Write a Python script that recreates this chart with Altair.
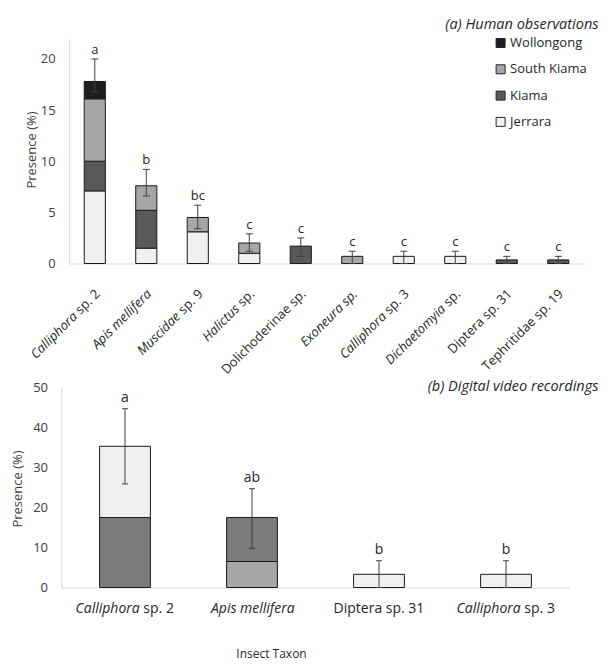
import altair as alt
import pandas as pd

FONT = "Open Sans"
INK = "#262626"
AXIS_GRAY = "#d9d9d9"
LABEL_GRAY = "#404040"
ERR = "#404040"

# ---------------- panel (a) data ----------------
taxa_a = ["Calliphora sp. 2", "Apis mellifera", "Muscidae sp. 9", "Halictus sp.",
          "Dolichoderinae sp.", "Exoneura sp.", "Calliphora sp. 3", "Dichaetomyia sp.",
          "Diptera sp. 31", "Tephritidae sp. 19"]
italic_a = ["Calliphora", "Apis mellifera", "Muscidae", "Halictus", "", "Exoneura sp.",
            "Calliphora", "Dichaetomyia", "", ""]
plain_a = ["sp. 2", "", "sp. 9", "sp.", "Dolichoderinae sp.", "", "sp. 3", "sp.",
           "Diptera sp. 31", "Tephritidae sp. 19"]
sites = ["Jerrara", "Kiama", "South Kiama", "Wollongong"]
jerrara = [7.1, 1.5, 3.1, 1.0, 0, 0, 0.7, 0.7, 0, 0]
kiama = [2.9, 3.7, 0, 0, 1.7, 0, 0, 0, 0.35, 0.35]
south_kiama = [6.1, 2.4, 1.4, 1.0, 0, 0.7, 0, 0, 0, 0]
wollongong = [1.7, 0, 0, 0, 0, 0, 0, 0, 0, 0]
err_hi_a = [20.0, 9.2, 5.7, 2.9, 2.5, 1.2, 1.2, 1.2, 0.7, 0.7]
err_lo_a = [16.8, 6.6, 3.4, 1.2, 0.7, 0.0, 0.0, 0.0, 0.0, 0.0]
letters_a = ["a", "b", "bc", "c", "c", "c", "c", "c", "c", "c"]

# ---------------- panel (b) data ----------------
taxa_b = ["Calliphora sp. 2", "Apis mellifera", "Diptera sp. 31", "Calliphora sp. 3"]
italic_b = ["Calliphora", "Apis mellifera", "", "Calliphora"]
plain_b = ["sp. 2", "", "Diptera sp. 31", "sp. 3"]
lower_val_b = [17.5, 6.5, 3.3, 3.3]
lower_site_b = ["Kiama", "South Kiama", "Jerrara", "Jerrara"]
upper_val_b = [17.8, 11.0, 0, 0]
upper_site_b = ["Jerrara", "Kiama", "", ""]
err_hi_b = [44.7, 24.7, 6.7, 6.7]
err_lo_b = [25.9, 9.8, 0.0, 0.0]
letters_b = ["a", "ab", "b", "b"]

# approximate advance widths (em) of Open Sans, for joining italic + roman label parts
ADV = {' ': 0.26, '.': 0.266, '0': 0.572, '1': 0.572, '2': 0.572, '3': 0.572, '9': 0.572,
       'a': 0.556, 'b': 0.613, 'c': 0.476, 'd': 0.613, 'e': 0.561, 'f': 0.336, 'h': 0.614,
       'i': 0.253, 'l': 0.253, 'm': 0.932, 'n': 0.614, 'o': 0.604, 'p': 0.613, 'r': 0.408,
       's': 0.477, 't': 0.353, 'u': 0.614, 'y': 0.501, 'A': 0.633, 'C': 0.631, 'D': 0.729,
       'E': 0.556, 'H': 0.738, 'M': 0.907, 'T': 0.556}


def text_w(s, size, italic=False):
    return sum(ADV.get(c, 0.56) for c in s) * size * (0.96 if italic else 1.0)


# layout: both plot areas share a left edge; panel (a)'s y axis sits 7.6px further in
SHIFT_A = 7.6
W_A, H_A = 515 + SHIFT_A, 225
W_B, H_B = 508, 200
GAP = 124

# ---------------- panel (a) ----------------
LBL_SIZE_A = 13
LBL_DX, LBL_DY = -18.0, 22.3
rows = []
for i, t in enumerate(taxa_a):
    for k, vals in enumerate([jerrara, kiama, south_kiama, wollongong]):
        if vals[i] > 0:
            rows.append({"taxon": t, "site": sites[k], "value": vals[i], "k": k})
df_bars_a = pd.DataFrame(rows)
df_err_a = pd.DataFrame({"taxon": taxa_a, "hi": err_hi_a, "lo": err_lo_a, "letter": letters_a})
gap_a = text_w(" ", LBL_SIZE_A)
df_lab_a = pd.DataFrame({
    "taxon": taxa_a, "it": italic_a, "pl": plain_a, "zero": [0] * len(taxa_a),
    "dxi": [LBL_DX - (text_w(p, LBL_SIZE_A) + gap_a if p and it else 0)
            for it, p in zip(italic_a, plain_a)],
})

x_a = alt.X("taxon:N",
            scale=alt.Scale(domain=taxa_a, paddingInner=0.59, paddingOuter=0.369, align=0.598),
            axis=alt.Axis(labels=False, ticks=False, title=None, grid=False,
                          domainColor=AXIS_GRAY, domainDash=[0, SHIFT_A, 515, 2000]))
ys_a = alt.Scale(domain=[0, 22], nice=False)
ya_axis = alt.Axis(values=[0, 5, 10, 15, 20], ticks=False, grid=False, domainColor=AXIS_GRAY,
                   offset=-SHIFT_A,
                   labelFontSize=13, labelColor=LABEL_GRAY, labelPadding=14, labelFont=FONT,
                   title="Presence (%)", titleFontSize=13, titleFontWeight="normal",
                   titleColor=LABEL_GRAY, titleFont=FONT, titleX=-37.6, titleY=111,
                   titleBaseline="middle")

bars_a = alt.Chart(df_bars_a).mark_bar(stroke="#1a1a1a", strokeWidth=1).encode(
    x=x_a,
    y=alt.Y("value:Q", stack="zero", scale=ys_a, axis=ya_axis),
    color=alt.Color("site:N",
                    scale=alt.Scale(domain=["Wollongong", "South Kiama", "Kiama", "Jerrara"],
                                    range=["#1e1e1e", "#a6a6a6", "#595959", "#f0f0f0"]),
                    legend=alt.Legend(orient="none", legendX=425 + SHIFT_A, legendY=-2,
                                      title=None, symbolType="square", symbolSize=81,
                                      symbolStrokeColor=INK, symbolStrokeWidth=1,
                                      symbolOpacity=1, labelFontSize=13, labelFont=FONT,
                                      labelColor=INK, labelOffset=3, rowPadding=12.3,
                                      padding=0)),
    order=alt.Order("k:Q", sort="ascending"),
)
rule_a = alt.Chart(df_err_a).mark_rule(color=ERR, strokeWidth=1).encode(
    x=x_a, y=alt.Y("lo:Q", scale=ys_a, axis=ya_axis), y2="hi:Q")
cap_hi_a = alt.Chart(df_err_a).mark_tick(color=ERR, size=7, thickness=1, opacity=1).encode(
    x=x_a, y=alt.Y("hi:Q", scale=ys_a, axis=ya_axis))
cap_lo_a = alt.Chart(df_err_a).mark_tick(color=ERR, size=7, thickness=1, opacity=1).encode(
    x=x_a, y=alt.Y("lo:Q", scale=ys_a, axis=ya_axis))
let_a = alt.Chart(df_err_a).mark_text(baseline="alphabetic", dy=-5, fontSize=13, font=FONT,
                                      color=INK).encode(
    x=x_a, y=alt.Y("hi:Q", scale=ys_a, axis=ya_axis), text="letter:N")
lab_pl_a = alt.Chart(df_lab_a).mark_text(angle=315, align="right", baseline="middle",
                                         dx=LBL_DX, dy=LBL_DY, fontSize=LBL_SIZE_A, font=FONT,
                                         color=INK).encode(
    x=x_a, y=alt.Y("zero:Q", scale=ys_a, axis=ya_axis), text="pl:N")
lab_it_a = alt.Chart(df_lab_a).mark_text(angle=315, align="right", baseline="middle",
                                         dx=alt.ExprRef(expr="datum.dxi"), dy=LBL_DY,
                                         fontSize=LBL_SIZE_A, font=FONT, fontStyle="italic",
                                         color=INK).encode(
    x=x_a, y=alt.Y("zero:Q", scale=ys_a, axis=ya_axis), text="it:N")

top = alt.layer(bars_a, rule_a, cap_hi_a, cap_lo_a, let_a, lab_pl_a, lab_it_a).properties(
    width=W_A, height=H_A,
    title=alt.TitleParams(text="(a) Human observations", anchor="end", frame="group",
                          fontStyle="italic", fontWeight="normal", fontSize=14.5, font=FONT,
                          color=INK, dx=14.4, offset=4),
)

# ---------------- panel (b) ----------------
LBL_SIZE_B = 14
rows = []
for i, t in enumerate(taxa_b):
    if lower_val_b[i] > 0:
        rows.append({"taxon": t, "site": lower_site_b[i], "value": lower_val_b[i], "k": 0})
    if upper_val_b[i] > 0:
        rows.append({"taxon": t, "site": upper_site_b[i], "value": upper_val_b[i], "k": 1})
df_bars_b = pd.DataFrame(rows)
df_err_b = pd.DataFrame({"taxon": taxa_b, "hi": err_hi_b, "lo": err_lo_b, "letter": letters_b})
gap_b = text_w(" ", LBL_SIZE_B)
shift_b = []
for it, p in zip(italic_b, plain_b):
    wi = text_w(it, LBL_SIZE_B, True)
    wp = text_w(p, LBL_SIZE_B)
    g = gap_b if (it and p) else 0
    shift_b.append(wi - (wi + g + wp) / 2)
df_lab_b = pd.DataFrame({
    "taxon": taxa_b, "it": italic_b, "pl": plain_b, "zero": [0] * len(taxa_b),
    "dxi": shift_b,
    "dxp": [s + (gap_b if (it and p) else 0) for s, it, p in zip(shift_b, italic_b, plain_b)],
})

x_b = alt.X("taxon:N", scale=alt.Scale(domain=taxa_b, paddingInner=0.6, paddingOuter=0.3),
            axis=alt.Axis(labels=False, ticks=False, grid=False, domainColor=AXIS_GRAY,
                          title="Insect Taxon", titleFontSize=12, titleFontWeight="normal",
                          titleColor=INK, titleFont=FONT, titleX=209.5, titleY=66,
                          titleBaseline="middle"))
ys_b = alt.Scale(domain=[0, 50], nice=False)
yb_axis = alt.Axis(values=[0, 10, 20, 30, 40, 50], ticks=False, grid=False,
                   domainColor=AXIS_GRAY, labelFontSize=13, labelColor=LABEL_GRAY,
                   labelPadding=14, labelFont=FONT, title="Presence (%)", titleFontSize=13,
                   titleFontWeight="normal", titleColor=LABEL_GRAY, titleFont=FONT,
                   titleX=-44, titleY=101, titleBaseline="middle")

bars_b = alt.Chart(df_bars_b).mark_bar(stroke="#1a1a1a", strokeWidth=1).encode(
    x=x_b,
    y=alt.Y("value:Q", stack="zero", scale=ys_b, axis=yb_axis),
    color=alt.Color("site:N",
                    scale=alt.Scale(domain=["Kiama", "South Kiama", "Jerrara"],
                                    range=["#7b7b7d", "#a6a6a8", "#f0f0f0"]),
                    legend=None),
    order=alt.Order("k:Q", sort="ascending"),
)
rule_b = alt.Chart(df_err_b).mark_rule(color=ERR, strokeWidth=1).encode(
    x=x_b, y=alt.Y("lo:Q", scale=ys_b, axis=yb_axis), y2="hi:Q")
cap_hi_b = alt.Chart(df_err_b).mark_tick(color=ERR, size=6, thickness=1, opacity=1).encode(
    x=x_b, y=alt.Y("hi:Q", scale=ys_b, axis=yb_axis))
cap_lo_b = alt.Chart(df_err_b).mark_tick(color=ERR, size=6, thickness=1, opacity=1).encode(
    x=x_b, y=alt.Y("lo:Q", scale=ys_b, axis=yb_axis))
let_b = alt.Chart(df_err_b).mark_text(baseline="alphabetic", dy=-7, fontSize=14, font=FONT,
                                      color=INK).encode(
    x=x_b, y=alt.Y("hi:Q", scale=ys_b, axis=yb_axis), text="letter:N")
lab_it_b = alt.Chart(df_lab_b).mark_text(align="right", baseline="middle",
                                         dx=alt.ExprRef(expr="datum.dxi"), dy=21,
                                         fontSize=LBL_SIZE_B, font=FONT, fontStyle="italic",
                                         color=INK).encode(
    x=x_b, y=alt.Y("zero:Q", scale=ys_b, axis=yb_axis), text="it:N")
lab_pl_b = alt.Chart(df_lab_b).mark_text(align="left", baseline="middle",
                                         dx=alt.ExprRef(expr="datum.dxp"), dy=21,
                                         fontSize=LBL_SIZE_B, font=FONT, color=INK).encode(
    x=x_b, y=alt.Y("zero:Q", scale=ys_b, axis=yb_axis), text="pl:N")

bottom = alt.layer(bars_b, rule_b, cap_hi_b, cap_lo_b, let_b, lab_it_b, lab_pl_b).properties(
    width=W_B, height=H_B,
    title=alt.TitleParams(text="(b) Digital video recordings", anchor="end", frame="group",
                          fontStyle="italic", fontWeight="normal", fontSize=14.5, font=FONT,
                          color=INK, dx=29, offset=-13),
)

chart = alt.vconcat(top, bottom, spacing=GAP, bounds="flush").resolve_scale(
    x="independent", y="independent", color="independent"
).properties(
    padding={"left": 3.5, "top": 8.5, "right": 0, "bottom": 2}
).configure(font=FONT).configure_view(stroke=None)

chart.save("out.html", embed_options={"renderer": "svg", "actions": False})
